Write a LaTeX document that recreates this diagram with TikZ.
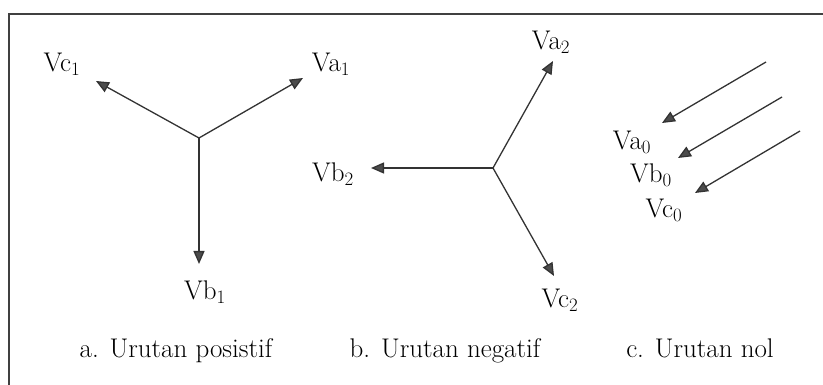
\documentclass[tikz,border=0pt]{standalone}
\usetikzlibrary{arrows.meta}
\tikzset{vec/.style={line width=1.3pt, draw=black!80, -{Triangle[length=13pt, width=11pt, fill=black!70]}},
  lbl/.style={font=\fontsize{27}{28}\selectfont, inner sep=0pt},
  capt/.style={font=\fontsize{27}{30}\selectfont, inner sep=0pt, anchor=base}}

\begin{document}
\begin{tikzpicture}[x=1pt, y=-1pt]
  \useasboundingbox (0,0) rectangle (823,385);
  \draw[line width=1.3pt, black!75] (9,385) -- (9,14) -- (823,14);
  % a. positive sequence
  \coordinate (o1) at (199,138);
  \coordinate (a1) at (303,78);
  \coordinate (b1) at (199,264);
  \coordinate (c1) at (96,81);
  \draw[vec] (o1) -- (a1);
  \draw[vec] (o1) -- (b1);
  \draw[vec] (o1) -- (c1);
  \node[lbl] (va1) at (331,64) {Va\textsubscript{1}};
  \node[lbl] (vb1) at (205,292) {Vb\textsubscript{1}};
  \node[lbl] (vc1) at (62,64) {Vc\textsubscript{1}};
  % b. negative sequence
  \coordinate (o2) at (493,168);
  \coordinate (a2) at (553,61);
  \coordinate (b2) at (371,168);
  \coordinate (c2) at (554,276);
  \draw[vec] (o2) -- (a2);
  \draw[vec] (o2) -- (b2);
  \draw[vec] (o2) -- (c2);
  \node[lbl] (va2) at (551,42) {Va\textsubscript{2}};
  \node[lbl] (vb2) at (333,174) {Vb\textsubscript{2}};
  \node[lbl] (vc2) at (560,300) {Vc\textsubscript{2}};
  % c. zero sequence
  \coordinate (s0a) at (766,62);
  \coordinate (s0b) at (782,97);
  \coordinate (s0c) at (800,131);
  \coordinate (t0a) at (662,123);
  \coordinate (t0b) at (678,158);
  \coordinate (t0c) at (695,193);
  \draw[vec] (s0a) -- (t0a);
  \draw[vec] (s0b) -- (t0b);
  \draw[vec] (s0c) -- (t0c);
  \node[lbl] (va0) at (632,142) {Va\textsubscript{0}};
  \node[lbl] (vb0) at (651,175) {Vb\textsubscript{0}};
  \node[lbl] (vc0) at (664,210) {Vc\textsubscript{0}};
  % captions
  \node[capt] (capa) at (176,357) {a. Urutan posistif};
  \node[capt] (capb) at (445,357) {b. Urutan negatif};
  \node[capt] (capc) at (700,357) {c. Urutan nol};
\end{tikzpicture}
\end{document}
